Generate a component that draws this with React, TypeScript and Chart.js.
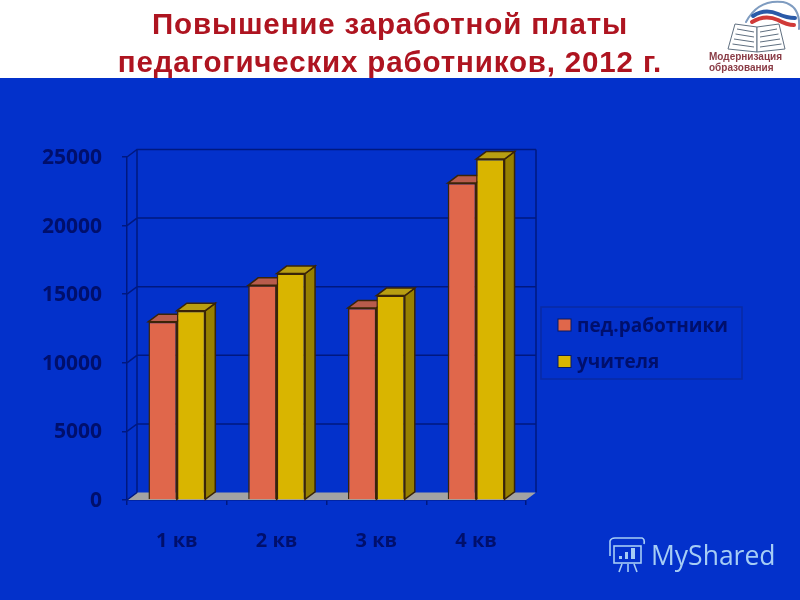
import { useRef, useEffect } from "react";
import { Chart, registerables, Plugin } from "chart.js";

Chart.register(...registerables);

const quarters = ["1 кв", "2 кв", "3 кв", "4 кв"];
const teachersAll = [13000, 15650, 14000, 23100];
const teachers = [13800, 16500, 14900, 24850];
const seriesNames = ["пед.работники", "учителя"];
const titleLines = ["Повышение заработной платы", "педагогических работников, 2012 г."];
const logoLines = ["Модернизация", "образования"];

const BLUE = "#0331cb";
const NAVY = "#001880";
const TEXT = "#000f6c";
const OUTLINE = "#3a2408";
const DX = 10;
const DY = -7.5;

const faces = [
  { front: "#e0674b", top: "#b85c4c", side: "#9a4a38" },
  { front: "#d9b500", top: "#b89e12", side: "#978000" },
];

function poly(ctx: CanvasRenderingContext2D, pts: number[][], fill?: string, stroke?: string, lw = 1.5) {
  ctx.beginPath();
  pts.forEach((p, i) => (i ? ctx.lineTo(p[0], p[1]) : ctx.moveTo(p[0], p[1])));
  ctx.closePath();
  if (fill) {
    ctx.fillStyle = fill;
    ctx.fill();
  }
  if (stroke) {
    ctx.strokeStyle = stroke;
    ctx.lineWidth = lw;
    ctx.stroke();
  }
}

function drawLogo(ctx: CanvasRenderingContext2D) {
  // flag swoosh
  ctx.lineCap = "round";
  ctx.strokeStyle = "#7f9cc0";
  ctx.lineWidth = 2;
  ctx.beginPath();
  ctx.moveTo(746, 22);
  ctx.quadraticCurveTo(758, -1, 783, 2);
  ctx.quadraticCurveTo(801, 6, 799, 29);
  ctx.stroke();
  ctx.strokeStyle = "#2a5aa8";
  ctx.lineWidth = 4;
  ctx.beginPath();
  ctx.moveTo(753, 16);
  ctx.quadraticCurveTo(765, 8, 778, 14);
  ctx.quadraticCurveTo(787, 18, 795, 18);
  ctx.stroke();
  ctx.strokeStyle = "#d03a38";
  ctx.beginPath();
  ctx.moveTo(752, 22);
  ctx.quadraticCurveTo(765, 14, 778, 20);
  ctx.quadraticCurveTo(787, 25, 794, 25);
  ctx.stroke();
  ctx.lineCap = "butt";
  // open book
  ctx.strokeStyle = "#5f6f80";
  ctx.lineWidth = 1;
  poly(ctx, [[735, 24], [757, 27], [757, 52], [728, 49]], "#ffffff", "#5f6f80", 1);
  poly(ctx, [[757, 27], [779, 24], [785, 49], [757, 52]], "#ffffff", "#5f6f80", 1);
  [31, 36, 41, 46].forEach((y) => {
    ctx.beginPath();
    ctx.moveTo(737 - (y - 31) * 0.3, y - 2);
    ctx.lineTo(754, y + 1);
    ctx.moveTo(760, y + 1);
    ctx.lineTo(777 + (y - 31) * 0.3, y - 2);
    ctx.stroke();
  });
  ctx.fillStyle = "#8a3c46";
  ctx.font = "bold 10px 'Liberation Sans'";
  ctx.textAlign = "left";
  ctx.textBaseline = "middle";
  ctx.fillText(logoLines[0], 709, 57);
  ctx.fillText(logoLines[1], 709, 68);
}

function drawWatermark(ctx: CanvasRenderingContext2D) {
  const c = "#a6cdf5";
  ctx.strokeStyle = c;
  ctx.fillStyle = c;
  ctx.lineWidth = 1.6;
  ctx.strokeRect(614, 546, 27, 17);
  ctx.beginPath();
  ctx.moveTo(610, 556);
  ctx.lineTo(610, 541);
  ctx.quadraticCurveTo(611, 538, 615, 538);
  ctx.lineTo(642, 538);
  ctx.quadraticCurveTo(645, 539, 644, 544);
  ctx.moveTo(622, 564);
  ctx.lineTo(619, 572);
  ctx.moveTo(628, 564);
  ctx.lineTo(628, 572);
  ctx.moveTo(634, 564);
  ctx.lineTo(637, 572);
  ctx.stroke();
  ctx.fillRect(619, 556, 3, 3);
  ctx.fillRect(625, 552, 3, 7);
  ctx.fillRect(631, 548, 4, 11);
  ctx.font = "26.5px 'Open Sans'";
  ctx.textAlign = "left";
  ctx.textBaseline = "middle";
  ctx.fillText("MyShared", 651, 557);
}

const slidePlugin: Plugin<"bar"> = {
  id: "slide",
  beforeDraw(chart) {
    const ctx = chart.ctx;
    ctx.save();
    ctx.fillStyle = "#ffffff";
    ctx.fillRect(0, 0, 800, 78);
    ctx.fillStyle = BLUE;
    ctx.fillRect(0, 78, 800, 522);

    ctx.fillStyle = "#ae1420";
    ctx.font = "bold 29.5px 'Liberation Sans'";
    (ctx as any).letterSpacing = "0.85px";
    ctx.textAlign = "center";
    ctx.textBaseline = "alphabetic";
    ctx.fillText(titleLines[0], 390, 34);
    ctx.fillText(titleLines[1], 390, 71.5);
    (ctx as any).letterSpacing = "0px";

    drawLogo(ctx);
    drawWatermark(ctx);

    // legend
    ctx.strokeStyle = "#0a2aa4";
    ctx.lineWidth = 1.5;
    ctx.strokeRect(541, 307, 201, 72);
    ctx.font = "bold 19px 'Open Sans'";
    ctx.textAlign = "left";
    chart.data.datasets.forEach((ds, i) => {
      const y = 325 + i * 36.5;
      ctx.fillStyle = faces[i].front;
      ctx.fillRect(558, y - 6, 13, 12);
      ctx.strokeStyle = "#0a1a60";
      ctx.lineWidth = 1;
      ctx.strokeRect(558, y - 6, 13, 12);
      ctx.fillStyle = TEXT;
      ctx.fillText(String(ds.label), 577, y + 1.5);
    });

    // y tick labels sit a little lower than the scale would put them
    const yScale = chart.scales.y;
    ctx.font = "bold 21px 'Open Sans'";
    ctx.textAlign = "right";
    ctx.fillStyle = TEXT;
    yScale.ticks.forEach((t) => {
      ctx.fillText(String(t.value), 102, yScale.getPixelForValue(t.value) + 1);
    });
    ctx.restore();
  },
  beforeDatasetsDraw(chart) {
    const ctx = chart.ctx;
    const { left, right, top, bottom } = chart.chartArea;
    const yScale = chart.scales.y;
    ctx.save();

    // floor
    poly(
      ctx,
      [[left, bottom], [right, bottom], [right + DX, bottom + DY], [left + DX, bottom + DY]],
      "#a3a3a3"
    );

    // back wall
    ctx.strokeStyle = NAVY;
    ctx.lineWidth = 1.5;
    ctx.beginPath();
    ctx.moveTo(left + DX, bottom + DY);
    ctx.lineTo(left + DX, top + DY);
    ctx.moveTo(right + DX, top + DY);
    ctx.lineTo(right + DX, bottom + DY);
    ctx.moveTo(left, bottom);
    ctx.lineTo(left + DX, bottom + DY);
    yScale.ticks.forEach((t) => {
      const y = yScale.getPixelForValue(t.value);
      if (t.value > 0) {
        ctx.moveTo(left, y);
        ctx.lineTo(left + DX, y + DY);
        ctx.lineTo(right + DX, y + DY);
      }
    });
    ctx.stroke();

    // bar sides and tops
    chart.data.datasets.forEach((_, d) => {
      chart.getDatasetMeta(d).data.forEach((el: any) => {
        const x0 = el.x - el.width / 2;
        const x1 = el.x + el.width / 2;
        const y0 = el.y;
        const y1 = el.base;
        poly(ctx, [[x1, y0], [x1 + DX, y0 + DY], [x1 + DX, y1 + DY], [x1, y1]], faces[d].side, OUTLINE);
        poly(ctx, [[x0, y0], [x0 + DX, y0 + DY], [x1 + DX, y0 + DY], [x1, y0]], faces[d].top, OUTLINE);
      });
    });
    ctx.restore();
  },
};

export default function App() {
  const chartRef = useRef<HTMLCanvasElement>(null);

  useEffect(() => {
    document.body.style.margin = "0";
    if (!chartRef.current) return;

    const chart = new Chart(chartRef.current, {
      type: "bar",
      data: {
        labels: quarters,
        datasets: [
          { label: seriesNames[0], data: teachersAll, backgroundColor: faces[0].front },
          { label: seriesNames[1], data: teachers, backgroundColor: faces[1].front },
        ].map((ds) => ({
          ...ds,
          borderColor: OUTLINE,
          borderWidth: 1.5,
          categoryPercentage: 0.57,
          barPercentage: 1,
        })),
      },
      options: {
        responsive: false,
        animation: false,
        layout: { padding: { left: 0, top: 157, right: 274, bottom: 0 } },
        plugins: { legend: { display: false }, title: { display: false }, tooltip: { enabled: false } },
        scales: {
          x: {
            afterFit: (s: any) => {
              s.height = 100;
            },
            grid: { drawOnChartArea: false, color: NAVY, tickLength: 5, lineWidth: 1.5 },
            border: { color: NAVY, width: 1.5 },
            ticks: {
              color: TEXT,
              font: { family: "'Open Sans'", size: 20, weight: "bold" },
              padding: 24,
              maxRotation: 0,
            },
          },
          y: {
            min: 0,
            max: 25000,
            afterFit: (s: any) => {
              s.width = 127;
            },
            grid: { drawOnChartArea: false, color: NAVY, tickLength: 5, lineWidth: 1.5 },
            border: { color: NAVY, width: 1.5 },
            ticks: { stepSize: 5000, display: false },
          },
        },
      },
      plugins: [slidePlugin],
    });

    return () => chart.destroy();
  }, []);

  return <canvas ref={chartRef} width={800} height={600} style={{ display: "block" }} />;
}
